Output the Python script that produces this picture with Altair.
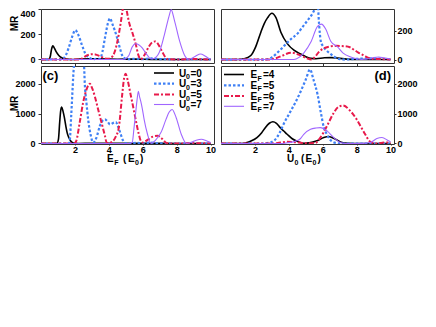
import altair as alt
import pandas as pd

FONT = "Liberation Sans"

# ---------------- Panel (a): MR vs E_F (small scale) ----------------
a0_x = [0, 0.45, 0.55, 0.62, 0.7, 0.78, 0.9, 1.05, 1.25, 1.5, 1.8, 2.3, 3.0, 3.8, 4.5, 5.5, 6.5, 8, 10]
a0_y = [0, 0, 25, 80, 108, 92, 60, 32, 12, 3, 0, 4, 6, 4, 2, 3, 1, 0, 0]
a3_x = [0, 1.2, 1.45, 1.65, 1.85, 2.02, 2.2, 2.4, 2.6, 2.85, 3.1, 3.3, 3.47, 3.62, 3.77, 3.95, 4.07, 4.2, 4.35, 4.49, 4.65, 4.79, 4.95, 5.2, 5.6, 6.0, 6.5, 7.0, 7.5, 8.0, 9.0, 10]
a3_y = [0, 0, 30, 100, 185, 232, 195, 120, 50, 12, 2, 5, 4, 60, 170, 290, 326, 285, 230, 170, 90, 32, 8, 2, 6, 3, 8, 3, 2, 0, 2, 0]
a5_x = [0, 2.3, 2.5, 2.75, 3.0, 3.2, 3.45, 3.7, 3.95, 4.15, 4.33, 4.5, 4.7, 4.85, 4.95, 5.05, 5.2, 5.38, 5.58, 5.78, 5.88, 6.1, 6.35, 6.55, 6.73, 6.95, 7.15, 7.35, 7.5, 8.0, 9.0, 10]
a5_y = [0, 0, 15, 34, 42, 40, 28, 12, 5, 15, 55, 140, 290, 420, 470, 390, 290, 216, 124, 20, 2, 35, 100, 135, 143, 112, 60, 15, 2, 0, 3, 0]
a7_x = [0, 4.8, 5.0, 5.18, 5.38, 5.58, 5.78, 5.98, 6.15, 6.28, 6.42, 6.6, 6.8, 6.97, 7.27, 7.57, 7.67, 7.87, 8.17, 8.47, 8.68, 8.9, 9.15, 9.4, 9.65, 9.85, 10]
a7_y = [0, 0, 8, 32, 100, 124, 115, 90, 55, 32, 10, 5, 20, 55, 193, 354, 395, 308, 147, 32, 3, 10, 30, 43, 30, 12, 5]

# ---------------- Panel (b): MR vs U_0 (small scale) ----------------
b4_x = [0, 1.0, 1.37, 1.76, 2.05, 2.35, 2.55, 2.75, 3.0, 3.24, 3.53, 3.92, 4.3, 4.7, 5.0, 5.3, 5.6, 6.1, 6.5, 6.9, 7.4, 8.0, 10]
b4_y = [0, 0, 5, 28, 90, 190, 250, 291, 321, 291, 190, 109, 65, 38, 20, 8, 6, 12, 13, 10, 3, 0, 0]
b5_x = [0, 2.6, 3.0, 3.33, 3.62, 3.92, 4.2, 4.51, 4.8, 5.1, 5.4, 5.62, 5.7, 5.78, 5.88, 6.03, 6.18, 6.47, 6.7, 6.96, 7.3, 8.0, 9.0, 10]
b5_y = [0, 0, 15, 48, 82, 119, 150, 180, 225, 271, 320, 370, 385, 250, 129, 90, 68, 38, 18, 4, 0, 5, 8, 0]
b6_x = [0, 2.75, 3.2, 3.63, 4.12, 4.7, 5.0, 5.35, 5.55, 5.75, 6.08, 6.4, 6.8, 7.25, 7.6, 7.84, 8.1, 8.43, 8.7, 9.0, 9.5, 10]
b6_y = [0, 0, 8, 28, 48, 28, 12, 0, 20, 50, 79, 90, 95, 93, 85, 68, 48, 28, 12, 4, 3, 0]
b7_x = [0, 4.3, 4.6, 4.9, 5.3, 5.69, 5.92, 6.18, 6.47, 6.86, 7.2, 7.65, 8.0, 8.3, 8.7, 9.0, 9.3, 9.6, 10]
b7_y = [0, 0, 15, 48, 121, 230, 246, 210, 127, 89, 45, 18, 5, 0, 5, 14, 18, 12, 3]

# ---------------- Panel (c): MR vs E_F (large scale) ----------------
c0_x = [0, 0.95, 1.03, 1.1, 1.16, 1.22, 1.3, 1.38, 1.46, 1.54, 1.64, 1.74, 1.9, 2.2, 3, 4, 5, 6, 7, 8, 10]
c0_y = [0, 0, 143, 700, 1100, 1223, 1080, 867, 600, 367, 200, 90, 15, 0, 8, 5, 10, 5, 3, 0, 0]
c3_x = [0, 1.55, 1.68, 1.78, 1.84, 1.9, 1.94, 2.05, 2.25, 2.45, 2.54, 2.58, 2.68, 2.78, 2.94, 3.07, 3.27, 3.47, 3.62, 3.77, 3.92, 4.07, 4.25, 4.41, 4.55, 4.67, 4.82, 4.97, 5.2, 5.6, 6.0, 6.5, 7.0, 8.0, 10]
c3_y = [0, 0, 30, 923, 1590, 2257, 2600, 3000, 3200, 2950, 2590, 2033, 1367, 810, 257, 30, 200, 590, 760, 810, 740, 643, 690, 723, 560, 367, 120, 10, 0, 20, 8, 30, 5, 0, 0]
c5_x = [0, 1.95, 2.08, 2.28, 2.48, 2.68, 2.88, 3.02, 3.17, 3.37, 3.57, 3.77, 3.87, 4.0, 4.2, 4.4, 4.59, 4.79, 4.9, 4.99, 5.1, 5.28, 5.48, 5.58, 5.75, 5.88, 6.0, 6.3, 6.6, 6.88, 7.1, 7.3, 7.47, 8.0, 9.0, 10]
c5_y = [0, 0, 90, 700, 1367, 1810, 2010, 1850, 1590, 1143, 700, 257, 30, 20, 60, 220, 543, 1657, 2200, 2343, 2150, 1657, 1100, 810, 350, 90, 30, 130, 230, 257, 180, 60, 5, 0, 10, 0]
c7_x = [0, 5.2, 5.38, 5.48, 5.58, 5.66, 5.74, 5.8, 5.88, 5.98, 6.08, 6.28, 6.48, 6.7, 6.9, 7.07, 7.37, 7.55, 7.73, 7.97, 8.27, 8.57, 8.85, 9.15, 9.46, 9.75, 10]
c7_y = [0, 0, 40, 500, 1030, 1450, 1757, 1600, 1423, 1150, 810, 310, 5, 80, 220, 367, 810, 1050, 1143, 867, 310, 5, 40, 110, 143, 90, 30]

# ---------------- Panel (d): MR vs U_0 (large scale) ----------------
d4_x = [0, 1.2, 1.53, 1.8, 2.12, 2.4, 2.61, 2.85, 3.06, 3.27, 3.49, 3.7, 3.9, 4.2, 4.57, 4.9, 5.2, 5.66, 6.06, 6.35, 6.75, 7.14, 7.5, 7.9, 10]
d4_y = [0, 0, 33, 90, 200, 360, 533, 680, 733, 680, 533, 420, 310, 160, 57, 10, 20, 90, 200, 233, 143, 33, 5, 0, 0]
d5_x = [0, 2.5, 2.8, 3.14, 3.45, 3.69, 4.12, 4.45, 4.71, 5.0, 5.25, 5.45, 5.69, 5.9, 6.06, 6.25, 6.45, 6.7, 7.1, 8.0, 10]
d5_y = [0, 0, 20, 100, 350, 650, 1100, 1450, 1767, 2150, 2490, 2150, 1657, 1000, 550, 300, 120, 30, 0, 0, 0]
d6_x = [0, 3.0, 3.5, 3.9, 4.3, 4.8, 5.2, 5.57, 5.86, 6.25, 6.65, 6.9, 7.19, 7.63, 8.0, 8.25, 8.5, 8.8, 9.2, 9.5, 9.8, 10]
d6_y = [0, 0, 30, 55, 45, 20, 5, 20, 200, 590, 1033, 1220, 1277, 1090, 810, 560, 310, 57, 0, 25, 35, 15]
d7_x = [0, 3.6, 4.0, 4.4, 4.66, 4.88, 5.28, 5.6, 5.86, 6.25, 6.65, 7.04, 7.4, 7.9, 8.4, 8.8, 9.19, 9.49, 9.88, 10]
d7_y = [0, 0, 30, 80, 150, 310, 477, 520, 533, 423, 200, 33, 0, 0, 5, 33, 167, 200, 90, 60]

# tick values
x_ticks = [2, 4, 6, 8, 10]
ya_ticks = [0, 200, 400]
yb_ticks = [0, 200]
ycd_ticks = [0, 1000, 2000]
legend_c_values = ["0", "3", "5", "7"]
legend_d_values = ["4", "5", "6", "7"]

STYLES = [
    dict(color="#000000", strokeWidth=1.6),
    dict(color="#3f80f5", strokeWidth=2.2, strokeDash=[2.5, 2]),
    dict(color="#e81a4b", strokeWidth=2.0, strokeDash=[5, 2, 2, 2]),
    dict(color="#a066ff", strokeWidth=1.1),
]

W = 173
H_TOP = 54
H_BOT = 78
ONE = pd.DataFrame({"k": [0]})


def txt(x, y, s, size=10, align="left", baseline="alphabetic"):
    return alt.Chart(ONE).mark_text(
        text=s, font=FONT, fontSize=size, fontWeight="bold", align=align,
        baseline=baseline, color="black"
    ).encode(x=alt.value(x), y=alt.value(y))


def leg_rule(x1, x2, y, st):
    return alt.Chart(ONE).mark_rule(**st).encode(
        x=alt.value(x1), x2=alt.value(x2), y=alt.value(y))


def panel(series, ydom, xaxis, yaxis, height, extra):
    layers = []
    for (xs, ys), st in zip(series, STYLES):
        df = pd.DataFrame({"x": xs, "y": ys})
        layers.append(
            alt.Chart(df).mark_line(interpolate="monotone", clip=True, **st).encode(
                x=alt.X("x:Q", scale=alt.Scale(domain=[0, 10.2], nice=False, zero=False), axis=xaxis),
                y=alt.Y("y:Q", scale=alt.Scale(domain=ydom, nice=False, zero=False), axis=yaxis),
            )
        )
    return alt.layer(*layers, *extra).properties(width=W, height=height)


xaxis_top = alt.Axis(values=[2, 4, 6, 8], labels=False, tickSize=3, title=None)
xaxis_bot = alt.Axis(values=x_ticks, tickSize=1, labelPadding=0, format="d", title=None)

yaxis_a = alt.Axis(orient="left", values=ya_ticks, format="d", labelFlush=True, tickSize=3, labelPadding=3,
                   title="MR", titleX=-22, titleY=14, titleFont=FONT, titleFontSize=10,
                   titleFontWeight="bold", titleColor="black")
yaxis_b = alt.Axis(orient="right", values=yb_ticks, format="d", tickSize=2, labelPadding=1, title=None)
yaxis_c = alt.Axis(orient="left", values=ycd_ticks, format="d", tickSize=3, labelPadding=3,
                   title="MR", titleX=-22, titleY=37, titleFont=FONT, titleFontSize=10,
                   titleFontWeight="bold", titleColor="black")
yaxis_d = alt.Axis(orient="right", values=ycd_ticks, format="d", tickSize=2, labelPadding=1, title=None)

# legends and labels for panel (c)
c_extra = [txt(1.5, 13.5, "(c)", size=13)]
c_rows = [7, 17.7, 28.5, 38.5]
for v, yy, st in zip(legend_c_values, c_rows, STYLES):
    c_extra.append(leg_rule(113, 133, yy, st))
    c_extra.append(txt(138, yy + 3.5, "U", 10))
    c_extra.append(txt(145, yy + 6, "0", 7))
    c_extra.append(txt(149.5, yy + 3.5, "=" + v, 10))
# x title E_F (E_0)
c_extra += [txt(66, 96, "E", 10), txt(73.3, 99, "F", 7), txt(82, 96, "(", 10),
            txt(87, 96, "E", 10), txt(94, 99, "0", 7), txt(99, 96, ")", 10)]

d_extra = [txt(170, 13.5, "(d)", size=13, align="right")]
d_rows = [8.5, 19.3, 30, 40.3]
for v, yy, st in zip(legend_d_values, d_rows, STYLES):
    d_extra.append(leg_rule(3, 23, yy, st))
    d_extra.append(txt(29.5, yy + 3.5, "E", 10))
    d_extra.append(txt(36.5, yy + 6, "F", 7))
    d_extra.append(txt(42, yy + 3.5, "=" + v, 10))
# x title U_0 (E_0)
d_extra += [txt(66, 96, "U", 10), txt(73.5, 99, "0", 7), txt(80, 96, "(", 10),
            txt(84.5, 96, "E", 10), txt(91.5, 99, "0", 7), txt(96.5, 96, ")", 10)]

pa = panel([(a0_x, a0_y), (a3_x, a3_y), (a5_x, a5_y), (a7_x, a7_y)], [-28, 400],
           xaxis_top, yaxis_a, H_TOP, [])
pb = panel([(b4_x, b4_y), (b5_x, b5_y), (b6_x, b6_y), (b7_x, b7_y)], [-24, 351],
           xaxis_top, yaxis_b, H_TOP, [])
pc = panel([(c0_x, c0_y), (c3_x, c3_y), (c5_x, c5_y), (c7_x, c7_y)], [-17, 2605],
           xaxis_bot, yaxis_c, H_BOT, c_extra)
pd_ = panel([(d4_x, d4_y), (d5_x, d5_y), (d6_x, d6_y), (d7_x, d7_y)], [-17, 2605],
            xaxis_bot, yaxis_d, H_BOT, d_extra)

chart = alt.concat(pa, pb, pc, pd_, columns=2, spacing={"row": 3, "column": 7}, bounds="flush").properties(
    padding=0
).configure_view(
    stroke="#333333", strokeWidth=1
).configure_axis(
    labelFont=FONT, labelFontWeight="bold", labelFontSize=9, labelColor="black",
    tickColor="#333333", domain=False, grid=False
)

chart.save("out.html", embed_options={"renderer": "svg", "actions": False})
